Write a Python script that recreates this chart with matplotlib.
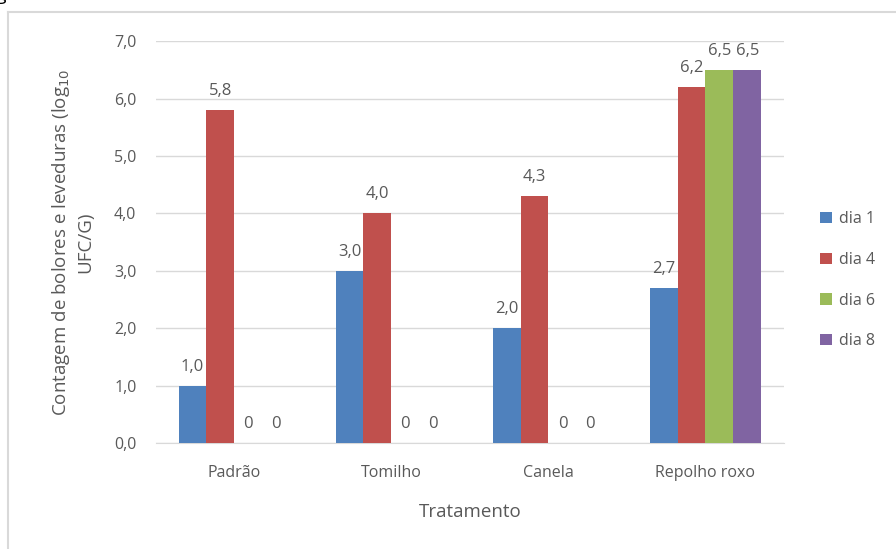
import numpy as np
import matplotlib.pyplot as plt
from matplotlib.lines import Line2D

plt.rcParams['font.family'] = ['Open Sans', 'DejaVu Sans']

categorias = ['Padrão', 'Tomilho', 'Canela', 'Repolho roxo']
series = ['dia 1', 'dia 4', 'dia 6', 'dia 8']
dia1 = [1.0, 3.0, 2.0, 2.7]
dia4 = [5.8, 4.0, 4.3, 6.2]
dia6 = [0, 0, 0, 6.5]
dia8 = [0, 0, 0, 6.5]
cores = ['#4F81BD', '#C0504D', '#9BBB59', '#8064A2']

fig = plt.figure(figsize=(8.96, 5.49), dpi=100)
ax = fig.add_axes([0.174, 0.193, 0.701, 0.732])

x = np.arange(len(categorias))
w = 0.178
texto = '#595959'
for k, (nome, vals) in enumerate(zip(series, [dia1, dia4, dia6, dia8])):
    pos = x + (k - 1.5) * w
    ax.bar(pos, vals, width=w, color=cores[k], label=nome, zorder=3)
    for p, v in zip(pos, vals):
        lab = '0' if v == 0 else ('%.1f' % v).replace('.', ',')
        ax.annotate(lab, (p, v), xytext=(0, 8), textcoords='offset points',
                    ha='center', va='bottom', fontsize=12, color=texto)

ax.set_xlim(-0.5, 3.5)
ax.set_ylim(0, 7)
ax.set_yticks(np.arange(0, 8))
ax.set_yticklabels([('%.1f' % t).replace('.', ',') for t in range(8)])
ax.set_xticks(x)
ax.set_xticklabels(categorias)
ax.tick_params(length=0, labelsize=11.5, colors=texto)
ax.tick_params(axis='x', pad=16)
ax.tick_params(axis='y', pad=14)
ax.grid(axis='y', color='#D9D9D9', linewidth=1, zorder=0)
for s in ['top', 'right', 'left']:
    ax.spines[s].set_visible(False)
ax.spines['bottom'].set_color('#D9D9D9')

ax.set_xlabel('Tratamento', fontsize=13.5, color=texto, labelpad=16)
ax.set_ylabel('Contagem de bolores e leveduras (log$_{10}$\nUFC/G)',
              fontsize=13.5, color=texto, labelpad=14, linespacing=1.3)

leg = ax.legend(loc='center left', bbox_to_anchor=(1.035, 0.405), frameon=False,
                fontsize=11.5, handlelength=0.7, handleheight=0.7,
                handletextpad=0.45, labelspacing=1.55)
for t in leg.get_texts():
    t.set_color(texto)

# moldura do grafico
fig.add_artist(Line2D([8 / 896, 8 / 896], [0, 1 - 12 / 549], color='#D9D9D9', lw=1.5))
fig.add_artist(Line2D([8 / 896, 1], [1 - 12 / 549, 1 - 12 / 549], color='#D9D9D9', lw=1.5))
fig.text(-0.005, 1 + 0.5 / 549, 'gura de dados', fontsize=14, va='baseline', color='black')

fig.savefig('out.png', dpi=100)
